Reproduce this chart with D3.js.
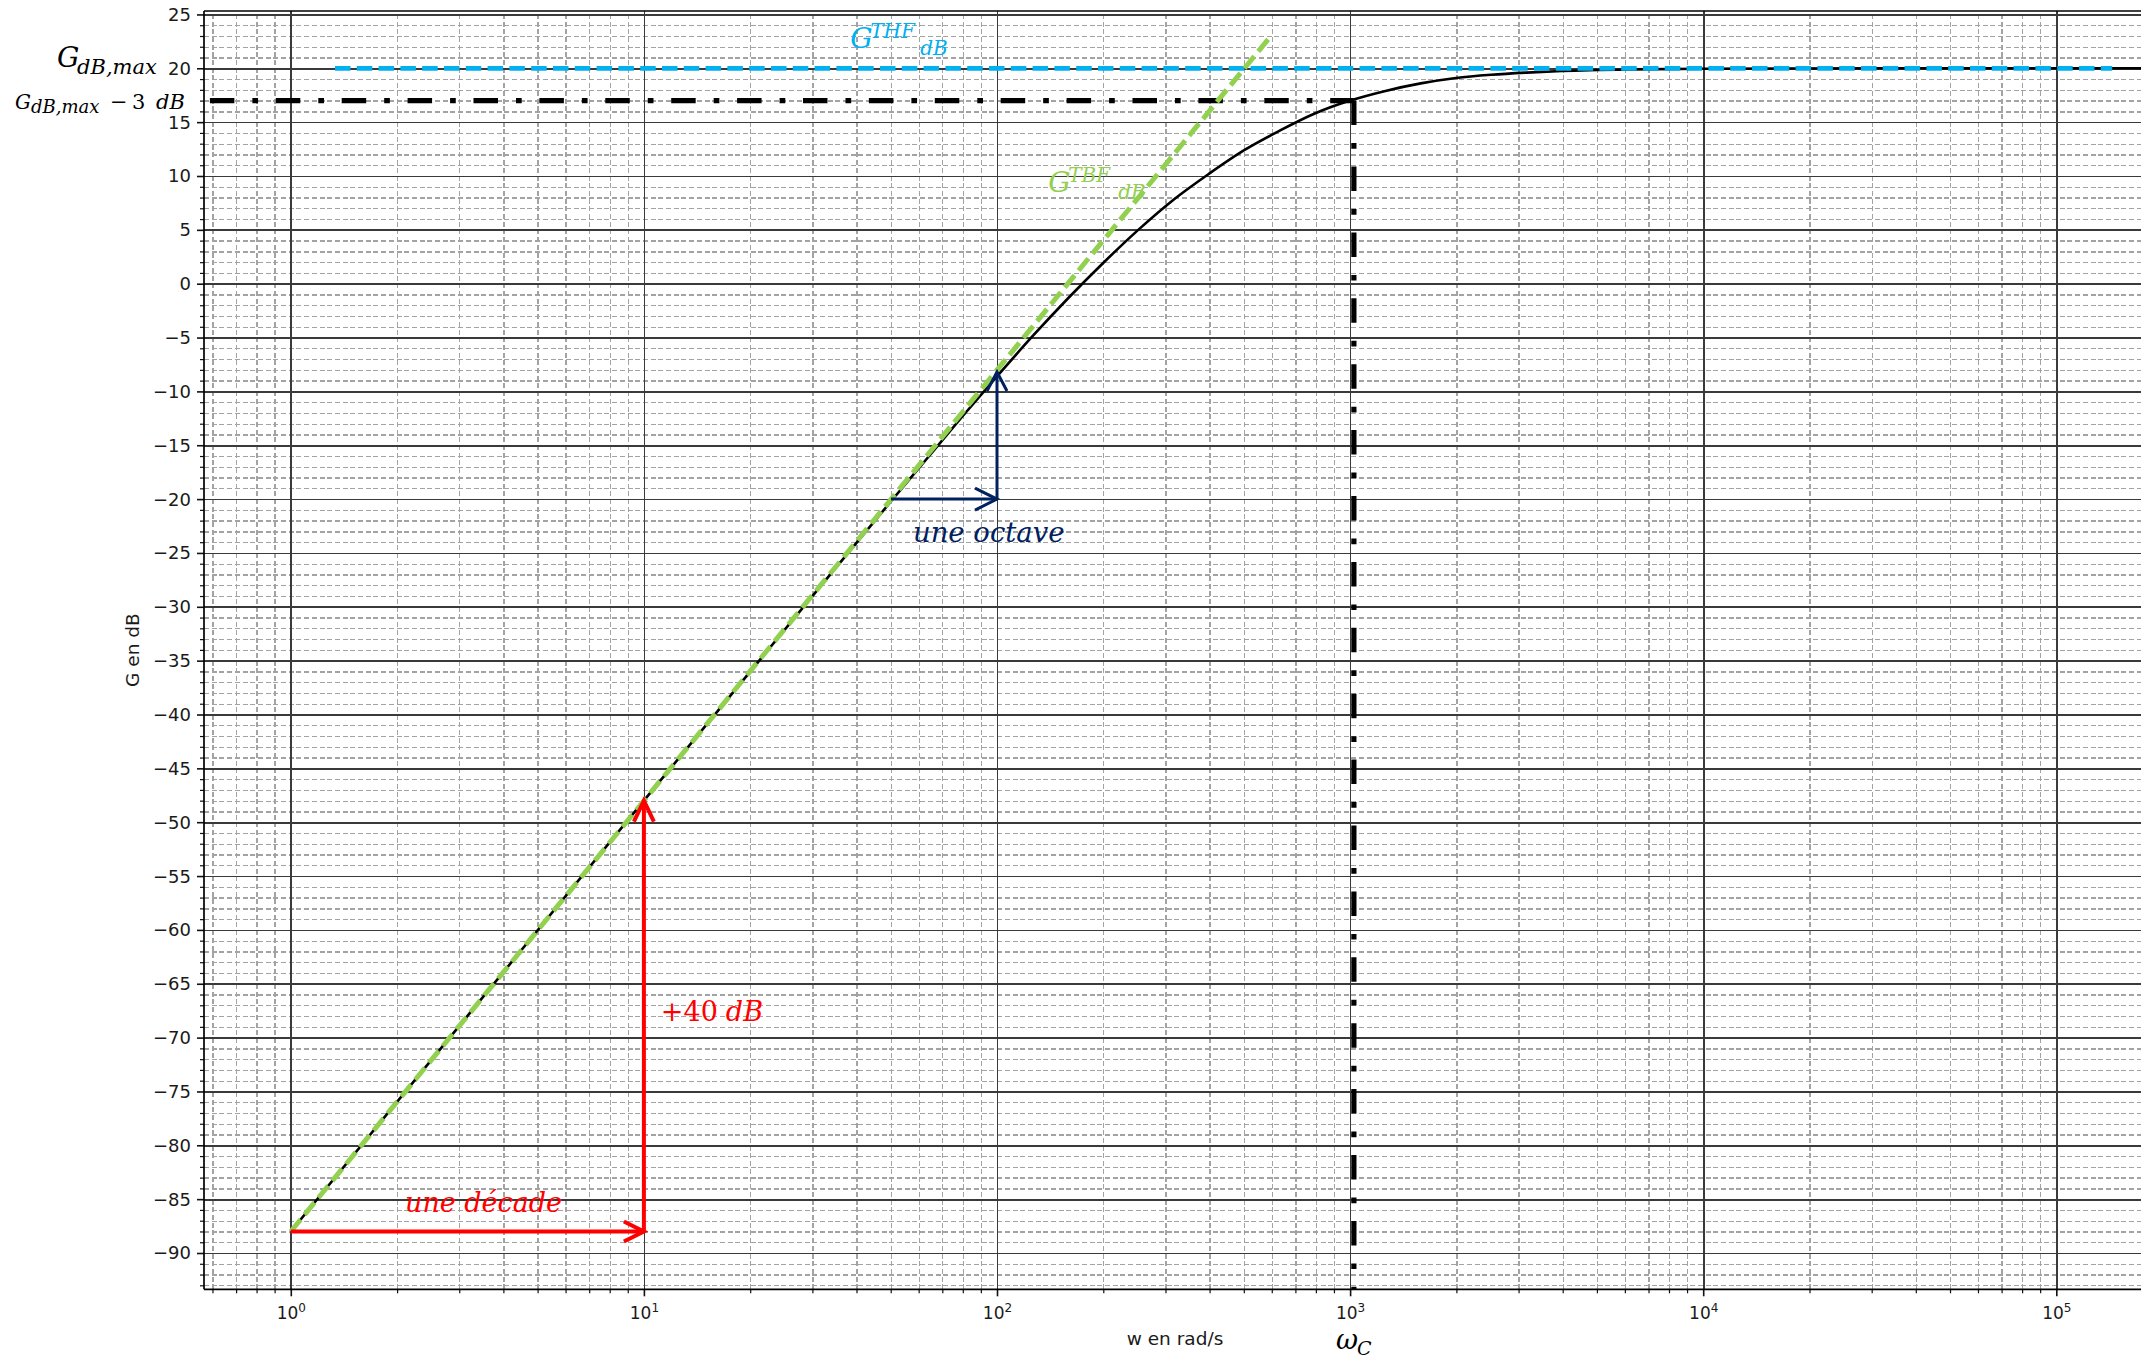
<!DOCTYPE html>
<html><head><meta charset="utf-8">
<script src="https://cdn.jsdelivr.net/npm/d3@7"></script>
<style>
html,body{margin:0;padding:0;background:#fff;overflow:hidden;}
svg{display:block;}
</style></head>
<body>
<svg id="chart" width="2141" height="1360"></svg>
<script>
// ---------------- data ----------------
// Bode magnitude of the filter: pulsation (rad/s) and gain (dB)
const omega  = [1, 3.162, 10, 31.62, 50.12, 63.1, 79.43, 100, 125.9, 158.5, 199.5, 251.2, 316.2, 398.1, 501.2, 631, 794.3, 1000, 1259, 1585, 1995, 2512, 3162, 3981, 6310, 10000, 31623, 100000, 316228];
const gainDb = [-88.0, -68.0, -48.0, -28.1, -20.2, -16.3, -12.4, -8.6, -4.9, -1.4, 1.9, 5.0, 7.8, 10.2, 12.4, 14.2, 15.8, 17.0, 17.9, 18.6, 19.1, 19.4, 19.6, 19.75, 19.9, 19.96, 20.0, 20.0, 20.0];

// asymptotes
const lfAsymOmega = [1, 600];
const lfAsymGain  = [-88, 23.1];
const hfAsymOmega = [1.334, 144000];
const hfAsymGain  = [20, 20];

// cut-off marks
const cutOmegaStart = 0.59;
const cutOmega = 1025;
const cutGain  = 17;

// annotation arrows (data coordinates)
const decadeArrowOmega = [1, 10];
const decadeArrowGain  = [-88, -88];
const fortyArrowOmega  = [10, 10];
const fortyArrowGain   = [-88, -48];
const octaveArrowOmega = [50.1, 100];
const octaveArrowGain  = [-20, -20];
const octaveUpOmega    = [100, 100];
const octaveUpGain     = [-20, -8.2];

// ticks
const yMajorTicks = [25, 20, 15, 10, 5, 0, -5, -10, -15, -20, -25, -30, -35, -40, -45, -50, -55, -60, -65, -70, -75, -80, -85, -90];
const yTickLabels = ["25","20","15","10","5","0","\u22125","\u221210","\u221215","\u221220","\u221225","\u221230","\u221235","\u221240","\u221245","\u221250","\u221255","\u221260","\u221265","\u221270","\u221275","\u221280","\u221285","\u221290"];
const xTickExponents = [0, 1, 2, 3, 4, 5];
const xTickBase = "10";

// ---------------- layout ----------------
const W = 2141, H = 1360;
const P = {left: 204, top: 11, right: 2146, bottom: 1289.3};
const svg = d3.select("#chart");
svg.append("rect").attr("width", W).attr("height", H).attr("fill", "#fff");

const x = d3.scaleLog().domain([Math.pow(10, -0.2458), Math.pow(10, 5.254)]).range([P.left, P.right]);
const y = d3.scaleLinear().domain([-93.37, 25.32]).range([P.bottom, P.top]);

const xMajor = xTickExponents.map(e => Math.pow(10, e));
const xMinor = [];
for (let k = -1; k <= 5; k++) for (let m = 2; m <= 9; m++) {
  const v = m * Math.pow(10, k);
  if (v >= x.domain()[0] && v <= x.domain()[1]) xMinor.push(v);
}
const yMinor = [];
for (let v = -93; v <= 25; v++) if (v % 5 !== 0) yMinor.push(v);

svg.append("defs").append("clipPath").attr("id", "plotclip")
  .append("rect").attr("x", P.left).attr("y", P.top)
  .attr("width", P.right - P.left).attr("height", P.bottom - P.top);

const plotH = P.bottom - P.top, plotW = P.right - P.left;

// ---------------- grids ----------------
function grid(axisGen, transform, color, width, dash) {
  const g = svg.append("g").attr("transform", transform).call(axisGen);
  g.select(".domain").remove();
  g.selectAll("text").remove();
  g.selectAll("line").attr("stroke", color).attr("stroke-width", width)
    .attr("stroke-dasharray", dash).attr("shape-rendering", "crispEdges");
  return g;
}
grid(d3.axisBottom(x).tickValues(xMinor).tickSize(-plotH).tickFormat(""), `translate(0,${P.bottom})`, "#a3a3a3", 1.3, "5,2.7");
grid(d3.axisLeft(y).tickValues(yMinor).tickSize(-plotW).tickFormat(""), `translate(${P.left},0)`, "#a3a3a3", 1.3, "5,2.7");
grid(d3.axisBottom(x).tickValues(xMajor).tickSize(-plotH).tickFormat(""), `translate(0,${P.bottom})`, "#3a3a3a", 1.7, null);
grid(d3.axisLeft(y).tickValues(yMajorTicks).tickSize(-plotW).tickFormat(""), `translate(${P.left},0)`, "#3a3a3a", 1.7, null);

// ---------------- data layer ----------------
const layer = svg.append("g").attr("clip-path", "url(#plotclip)");
const curvePts = omega.map((w, i) => ({w, g: gainDb[i]}));
const line = d3.line().x(d => x(d.w)).y(d => y(d.g));

layer.append("path").datum(curvePts)
  .attr("d", line.curve(d3.curveMonotoneX))
  .attr("fill", "none").attr("stroke", "#000").attr("stroke-width", 2.6);

const straight = d3.line().x(d => x(d.w)).y(d => y(d.g));
// dash-dot -3 dB marks
layer.append("path")
  .datum([{w: cutOmegaStart, g: cutGain}, {w: cutOmega, g: cutGain}])
  .attr("d", straight).attr("fill", "none").attr("stroke", "#000")
  .attr("stroke-width", 5.2).attr("stroke-dasharray", "24.5,18,5.7,17.7");
layer.append("path")
  .datum([{w: cutOmega, g: cutGain}, {w: cutOmega, g: y.domain()[0]}])
  .attr("d", straight).attr("fill", "none").attr("stroke", "#000")
  .attr("stroke-width", 5.2).attr("stroke-dasharray", "24.5,18,5.7,17.7");

// HF asymptote (blue)
layer.append("path")
  .datum(hfAsymOmega.map((w, i) => ({w, g: hfAsymGain[i]})))
  .attr("d", straight).attr("fill", "none").attr("stroke", "#00B0F0")
  .attr("stroke-width", 4.8).attr("stroke-dasharray", "15.5,6.3");

// LF asymptote (green)
layer.append("path")
  .datum(lfAsymOmega.map((w, i) => ({w, g: lfAsymGain[i]})))
  .attr("d", straight).attr("fill", "none").attr("stroke", "#92D050")
  .attr("stroke-width", 5).attr("stroke-dasharray", "15.5,6.3");

// ---------------- arrows ----------------
function arrow(ws, gs, color, width, headLen, headHalf) {
  const x0 = x(ws[0]), y0 = y(gs[0]), x1 = x(ws[1]), y1 = y(gs[1]);
  svg.append("line").attr("x1", x0).attr("y1", y0).attr("x2", x1).attr("y2", y1)
    .attr("stroke", color).attr("stroke-width", width);
  const len = Math.hypot(x1 - x0, y1 - y0), ux = (x1 - x0) / len, uy = (y1 - y0) / len;
  const nx = -uy, ny = ux;
  const bx = x1 - ux * headLen, by = y1 - uy * headLen;
  svg.append("path")
    .attr("d", `M${bx + nx * headHalf},${by + ny * headHalf}L${x1},${y1}L${bx - nx * headHalf},${by - ny * headHalf}`)
    .attr("fill", "none").attr("stroke", color).attr("stroke-width", width)
    .attr("stroke-linejoin", "miter").attr("stroke-miterlimit", 10);
}
arrow(decadeArrowOmega, decadeArrowGain, "#FF0000", 4, 20, 10);
arrow(fortyArrowOmega, fortyArrowGain, "#FF0000", 4, 21, 10);
arrow(octaveArrowOmega, octaveArrowGain, "#002060", 3, 22, 11);
arrow(octaveUpOmega, octaveUpGain, "#002060", 3, 19, 10);

// ---------------- axes ----------------
const tickFont = "'DejaVu Sans', sans-serif";
const axL = svg.append("g").attr("transform", `translate(${P.left},0)`)
  .call(d3.axisLeft(y).tickValues(yMajorTicks).tickSize(7).tickPadding(6)
    .tickFormat((d, i) => yTickLabels[i]));
axL.select(".domain").remove();
axL.selectAll("line").attr("stroke", "#111").attr("stroke-width", 1.6);
axL.selectAll("text").attr("font-family", tickFont).attr("font-size", 18).attr("fill", "#1a1a1a").attr("dy", "0.33em");

const axLm = svg.append("g").attr("transform", `translate(${P.left},0)`)
  .call(d3.axisLeft(y).tickValues(yMinor).tickSize(4).tickFormat(""));
axLm.select(".domain").remove();
axLm.selectAll("line").attr("stroke", "#111").attr("stroke-width", 1.2);

const axB = svg.append("g").attr("transform", `translate(0,${P.bottom})`)
  .call(d3.axisBottom(x).tickValues(xMajor).tickSize(7).tickFormat(""));
axB.select(".domain").remove();
axB.selectAll("line").attr("stroke", "#111").attr("stroke-width", 1.6);
axB.selectAll(".tick").each(function(d, i) {
  const t = d3.select(this).append("text").attr("y", 29.7).attr("fill", "#1a1a1a")
    .attr("font-family", tickFont).attr("text-anchor", "middle");
  t.append("tspan").attr("font-size", 17).text(xTickBase);
  t.append("tspan").attr("font-size", 12).attr("dy", -7).text(String(xTickExponents[i]));
});
const axBm = svg.append("g").attr("transform", `translate(0,${P.bottom})`)
  .call(d3.axisBottom(x).tickValues(xMinor).tickSize(4).tickFormat(""));
axBm.select(".domain").remove();
axBm.selectAll("line").attr("stroke", "#111").attr("stroke-width", 1.2);

// spines
svg.append("line").attr("x1", P.left).attr("x2", P.left).attr("y1", P.top).attr("y2", P.bottom).attr("stroke", "#000").attr("stroke-width", 1.7);
svg.append("line").attr("x1", P.left).attr("x2", P.right).attr("y1", P.bottom).attr("y2", P.bottom).attr("stroke", "#000").attr("stroke-width", 1.7);
svg.append("line").attr("x1", P.left).attr("x2", P.right).attr("y1", P.top).attr("y2", P.top).attr("stroke", "#000").attr("stroke-width", 1.7);

// axis titles
svg.append("text").attr("x", (P.left + P.right) / 2).attr("y", 1345)
  .attr("text-anchor", "middle").attr("font-family", tickFont).attr("font-size", 18.5)
  .attr("fill", "#1a1a1a").text("w en rad/s");
svg.append("text").attr("transform", `translate(139,${(P.top + P.bottom) / 2}) rotate(-90)`)
  .attr("text-anchor", "middle").attr("font-family", tickFont).attr("font-size", 18.5)
  .attr("fill", "#1a1a1a").text("G en dB");

// ---------------- math-style labels ----------------
const serif = "'DejaVu Serif', 'Liberation Serif', serif";
function piece(px, py, txt, size, color, italic) {
  svg.append("text").attr("x", px).attr("y", py).attr("font-family", serif)
    .attr("font-size", size).attr("font-style", italic ? "italic" : "normal")
    .attr("fill", color).text(txt);
}
function gLabel(px, py, sup, sub, color) {
  piece(px, py, "G", 28, color, true);
  piece(px + 20, py - 10, sup, 20, color, true);
  piece(px + 70, py + 7, sub, 20, color, true);
}
// G^THF_dB (blue) and G^TBF_dB (green)
gLabel(x(38.4), y(21.9), "THF", "dB", "#00B0F0");
gLabel(x(139.6), y(8.5), "TBF", "dB", "#92D050");

// red / navy annotations
piece(x(2.106), y(-86.2), "une décade", 27, "#FF0000", true);
piece(x(11.17), y(-68.46), "+40", 27, "#FF0000", false);
piece(x(11.17) + 65, y(-68.46), "dB", 27, "#FF0000", true);
piece(x(57.8), y(-24.0), "une octave", 27.5, "#002060", true);

// left labels
piece(57, y(20) - 1.6, "G", 28, "#000", true);
piece(77, y(20) + 6, "dB,max", 21, "#000", true);
piece(15, y(17) + 8.4, "G", 20, "#000", true);
piece(31, y(17) + 12.5, "dB,max", 18, "#000", true);
piece(110, y(17) + 8.4, "\u2212", 21, "#000", false);
piece(132, y(17) + 8.4, "3", 21, "#000", false);
piece(156, y(17) + 8.4, "dB", 21, "#000", true);

// omega_C under the axis
piece(x(cutOmega) - 18, 1349, "\u03C9", 27, "#000", true);
piece(x(cutOmega) + 3, 1355, "C", 19, "#000", true);
</script>
</body></html>
